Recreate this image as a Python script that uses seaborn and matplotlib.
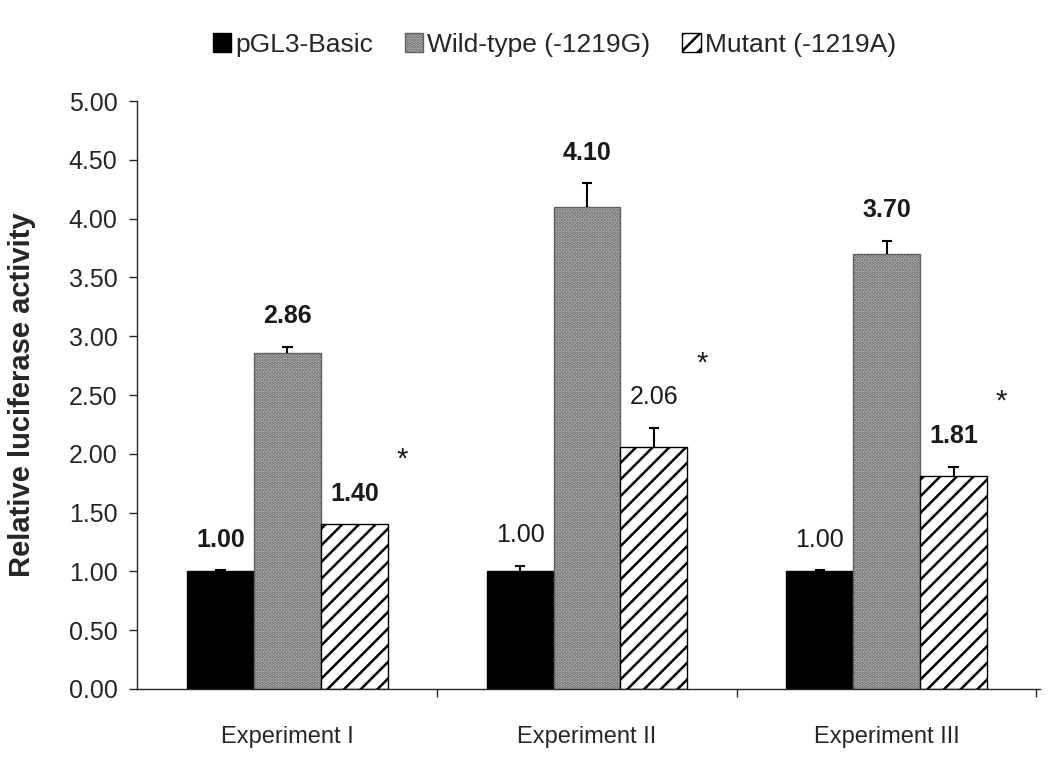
import numpy as np
import pandas as pd
import seaborn as sns
import matplotlib.pyplot as plt

# values
experiments = ['Experiment I', 'Experiment II', 'Experiment III']
constructs = ['pGL3-Basic', 'Wild-type (-1219G)', 'Mutant (-1219A)']
basic = [1.00, 1.00, 1.00]
wild = [2.86, 4.10, 3.70]
mutant = [1.40, 2.06, 1.81]
basic_err = [0.01, 0.05, 0.01]
wild_err = [0.05, 0.20, 0.11]
mutant_err = [0.0, 0.16, 0.08]
value_labels = [['1.00', '1.00', '1.00'], ['2.86', '4.10', '3.70'], ['1.40', '2.06', '1.81']]
significant = [True, True, True]  # asterisk over the mutant bars

df = pd.DataFrame({
    'Experiment': experiments * 3,
    'Construct': [c for c in constructs for _ in experiments],
    'Activity': basic + wild + mutant,
})
errs = [basic_err, wild_err, mutant_err]

sns.set_style('ticks')
plt.rcParams['font.family'] = ['Liberation Sans', 'DejaVu Sans']
plt.rcParams['hatch.linewidth'] = 1.8

fig, ax = plt.subplots(figsize=(10.5, 7.73), dpi=100)
fig.subplots_adjust(left=0.1305, right=0.9905, bottom=0.1087, top=0.8693)

sns.barplot(data=df, x='Experiment', y='Activity', hue='Construct',
            order=experiments, hue_order=constructs, errorbar=None,
            width=0.67, saturation=1, palette=['black', '#c4c4c4', 'white'],
            edgecolor='black', linewidth=1, ax=ax)

# fill textures like the original
styles = [dict(hatch=None, edgecolor='black'),
          dict(hatch='.....', edgecolor='#606060'),
          dict(hatch='//', edgecolor='black')]
for cont, st in zip(ax.containers, styles):
    for p in cont.patches:
        p.set_hatch(st['hatch'])
        p.set_edgecolor(st['edgecolor'])

# bold flags for the value labels as in the original figure
bold = [['bold', 'normal', 'normal'], ['bold', 'bold', 'bold'], ['bold', 'normal', 'bold']]

cap = 0.017
for i, cont in enumerate(list(ax.containers)[:3]):
    xs = [p.get_x() + p.get_width() / 2 for p in cont.patches]
    ys = [p.get_height() for p in cont.patches]
    for j in range(3):
        e = errs[i][j]
        if e > 0:
            ax.vlines(xs[j], ys[j], ys[j] + e, color='black', lw=1.5, zorder=3)
            ax.hlines(ys[j] + e, xs[j] - cap, xs[j] + cap, color='black', lw=1.5, zorder=3)
        ax.text(xs[j], ys[j] + e + 0.26, value_labels[i][j], ha='center',
                va='center', fontsize=18, fontweight=bold[i][j], color='#1a1a1a')
        if i == 2 and significant[j]:
            ax.text(xs[j] + 0.16, ys[j] + e + 0.55, '*', ha='center',
                    va='center', fontsize=21, color='#1a1a1a')

ax.set_xlim(-0.502, 2.512)
ax.set_ylim(0, 5)
ax.set_yticks(np.arange(0, 5.01, 0.5))
ax.set_yticklabels([f'{v:.2f}' for v in np.arange(0, 5.01, 0.5)], fontsize=18)
ax.set_xticks([0, 1, 2])
ax.set_xticklabels(experiments, fontsize=17)
ax.set_xticks([0.5, 1.5, 2.5], minor=True)
ax.tick_params(axis='x', which='major', length=0, pad=27)
ax.tick_params(axis='x', which='minor', length=6, width=1, direction='out')
ax.tick_params(axis='y', length=6, width=1, direction='out', pad=8)
ax.set_xlabel('')
ax.set_ylabel('Relative luciferase activity', fontsize=21, fontweight='bold', labelpad=14)
ax.yaxis.set_label_coords(-0.112, 0.5)
for s in ['top', 'right']:
    ax.spines[s].set_visible(False)
for s in ['left', 'bottom']:
    ax.spines[s].set_linewidth(1)

ax.legend(list(ax.containers)[:3], constructs, loc='center', bbox_to_anchor=(0.528, 0.942),
          bbox_transform=fig.transFigure, ncol=3, frameon=False, fontsize=19,
          handlelength=0.7, handleheight=0.7, handletextpad=0.15, columnspacing=1.2)

fig.savefig('out.png', dpi=100)
